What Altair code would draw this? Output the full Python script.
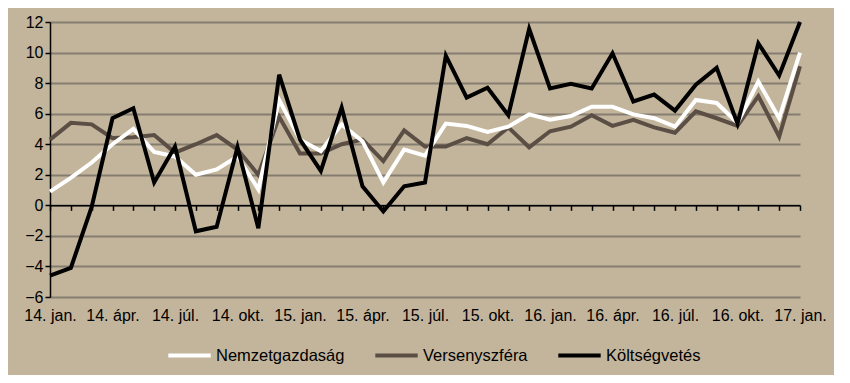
import altair as alt
import pandas as pd

months = [
    "14. jan.", "14. febr.", "14. márc.", "14. ápr.", "14. máj.", "14. jún.",
    "14. júl.", "14. aug.", "14. szept.", "14. okt.", "14. nov.", "14. dec.",
    "15. jan.", "15. febr.", "15. márc.", "15. ápr.", "15. máj.", "15. jún.",
    "15. júl.", "15. aug.", "15. szept.", "15. okt.", "15. nov.", "15. dec.",
    "16. jan.", "16. febr.", "16. márc.", "16. ápr.", "16. máj.", "16. jún.",
    "16. júl.", "16. aug.", "16. szept.", "16. okt.", "16. nov.", "16. dec.",
    "17. jan.",
]
tick_labels = [
    "14. jan.", "14. ápr.", "14. júl.", "14. okt.", "15. jan.", "15. ápr.",
    "15. júl.", "15. okt.", "16. jan.", "16. ápr.", "16. júl.", "16. okt.",
    "17. jan.",
]
nemzetgazdasag = [0.9, 1.8, 2.8, 4.0, 5.0, 3.5, 3.2, 2.0, 2.35, 3.2, 1.05, 6.9,
                  4.3, 3.55, 5.3, 4.2, 1.5, 3.65, 3.25, 5.35, 5.2, 4.8, 5.15, 5.95,
                  5.6, 5.85, 6.45, 6.45, 5.95, 5.7, 5.15, 6.9, 6.7, 5.4, 8.1, 5.7, 10.0]
versenyszfera = [4.3, 5.4, 5.3, 4.4, 4.45, 4.6, 3.45, 4.0, 4.6, 3.65, 2.0, 5.8,
                 3.4, 3.4, 4.0, 4.3, 2.9, 4.9, 3.85, 3.85, 4.4, 4.0, 5.1, 3.8,
                 4.85, 5.15, 5.9, 5.2, 5.6, 5.1, 4.75, 6.15, 5.7, 5.2, 7.15, 4.5, 9.1]
koltsegvetes = [-4.6, -4.1, -0.1, 5.7, 6.35, 1.5, 3.85, -1.7, -1.4, 3.8, -1.5, 8.55,
                4.3, 2.25, 6.4, 1.25, -0.4, 1.25, 1.5, 9.8, 7.05, 7.7, 5.9, 11.55,
                7.65, 7.95, 7.65, 9.95, 6.8, 7.25, 6.2, 7.9, 9.0, 5.35, 10.6, 8.5, 12.0]

series_names = ["Nemzetgazdaság", "Versenyszféra", "Költségvetés"]
series_colors = ["#FFFFFF", "#5B4E44", "#000000"]
draw_order = ["Versenyszféra", "Nemzetgazdaság", "Költségvetés"]
y_ticks = [-6, -4, -2, 0, 2, 4, 6, 8, 10, 12]

rows = []
for name, vals in zip(series_names, [nemzetgazdasag, versenyszfera, koltsegvetes]):
    for m, v in zip(months, vals):
        rows.append({"honap": m, "sorozat": name, "ertek": v})
df = pd.DataFrame(rows)

FONT = "Liberation Sans"
x_scale = alt.Scale(type="point", padding=0)
y_scale = alt.Scale(domain=[-6, 12], nice=False, zero=False)

x_axis_main = alt.Axis(orient="bottom", values=tick_labels, labelAngle=0, domain=False,
                       ticks=False, grid=False, labelPadding=10, labelFontSize=16,
                       labelFontWeight="normal", labelColor="#000000", labelFont=FONT,
                       labelOverlap=False, labelFlush=False)
y_axis_main = alt.Axis(values=y_ticks, grid=True, gridColor="#857D70", gridWidth=2,
                       domainColor="#000000", domainWidth=1.5, tickColor="#000000",
                       tickSize=5, tickWidth=1.5, labelPadding=2, labelFontSize=16,
                       labelFontWeight="normal", labelColor="#000000", labelFont=FONT,
                       labelOverlap=False, labelFlush=False)
color = alt.Color(
    "sorozat:N",
    scale=alt.Scale(domain=series_names, range=series_colors),
    legend=alt.Legend(
        title=None, orient="none", direction="horizontal", legendX=116, legendY=310,
        symbolType="stroke", symbolSize=1800, symbolStrokeWidth=4,
        labelFontSize=16.5, labelFont=FONT, labelFontWeight="normal",
        labelColor="#000000", labelOffset=3, columnPadding=22,
    ),
)

layers = []
for k, name in enumerate(draw_order):
    first = k == 0
    layers.append(
        alt.Chart(df).transform_filter(alt.datum.sorozat == name)
        .mark_line(strokeWidth=4, strokeJoin="miter")
        .encode(
            x=alt.X("honap:O", sort=months, scale=x_scale, title=None,
                    axis=x_axis_main if first else None),
            y=alt.Y("ertek:Q", scale=y_scale, title=None, axis=y_axis_main),
            color=color,
        )
    )

# zero-line axis with monthly ticks
zero_axis = alt.Chart(df).mark_point(opacity=0).encode(
    x=alt.X("honap:O", sort=months, scale=x_scale, title=None,
            axis=alt.Axis(orient="bottom", offset=-91.67, labels=False, grid=False,
                          domainColor="#000000", domainWidth=1.5, tickColor="#000000",
                          tickSize=5, tickWidth=1.5)),
    y=alt.Y("ertek:Q", scale=y_scale, title=None, axis=y_axis_main),
)

chart = alt.layer(*layers, zero_axis).resolve_axis(x="independent").properties(
    width=750, height=275, autosize="none",
    padding={"left": 42, "top": 14, "right": 34, "bottom": 78},
).configure(background="#C3B59C").configure_view(stroke=None)

chart.save("out.html", embed_options={"renderer": "svg", "actions": False})
